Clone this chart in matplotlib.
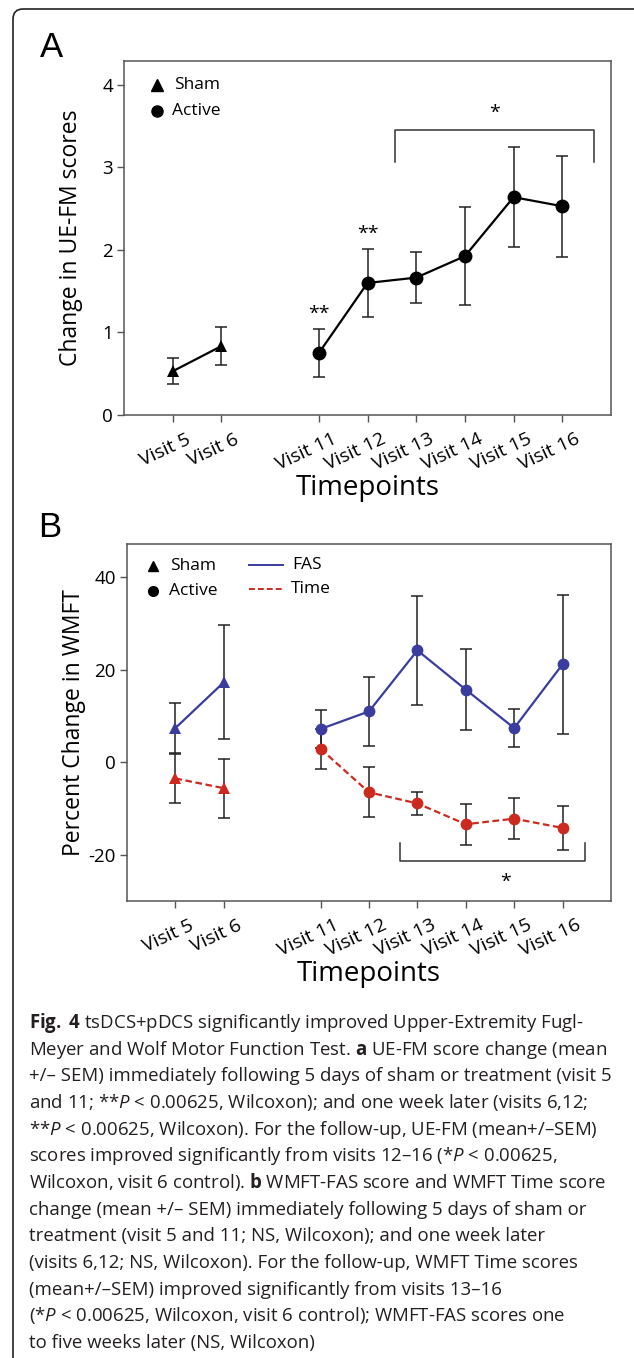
import matplotlib
matplotlib.use("Agg")
import matplotlib.pyplot as plt
from matplotlib.patches import FancyBboxPatch
from matplotlib.transforms import IdentityTransform, offset_copy

plt.rcParams["font.family"] = ["Open Sans", "DejaVu Sans"]
plt.rcParams["mathtext.fontset"] = "custom"
plt.rcParams["mathtext.rm"] = "Open Sans"
plt.rcParams["mathtext.bf"] = "Open Sans:bold"
plt.rcParams["mathtext.it"] = "Open Sans:italic"
plt.rcParams["axes.unicode_minus"] = False

# ---------------------------------------------------------------------------
# data
# ---------------------------------------------------------------------------
visit_labels = ["Visit 5", "Visit 6", "Visit 11", "Visit 12",
                "Visit 13", "Visit 14", "Visit 15", "Visit 16"]
visit_pos = [0, 1, 3, 4, 5, 6, 7, 8]
sham_pos = visit_pos[:2]
active_pos = visit_pos[2:]

# panel A: UE-FM change
uefm_sham = [0.53, 0.835]
uefm_sham_err = [0.16, 0.23]
uefm_active = [0.75, 1.60, 1.665, 1.925, 2.64, 2.53]
uefm_active_err = [0.29, 0.41, 0.31, 0.59, 0.61, 0.61]

# panel B: WMFT percent change
fas_sham = [7.4, 17.3]
fas_sham_err = [5.5, 12.3]
fas_active = [7.2, 11.0, 24.2, 15.7, 7.4, 21.2]
fas_active_err = [4.1, 7.5, 11.8, 8.7, 4.2, 15.0]
time_sham = [-3.5, -5.6]
time_sham_err = [5.3, 6.4]
time_active = [2.9, -6.5, -8.9, -13.4, -12.2, -14.2]
time_active_err = [4.3, 5.4, 2.4, 4.4, 4.4, 4.8]

caption_lines = [
    r"$\mathbf{Fig.}$ $\mathbf{4}$ tsDCS+pDCS significantly improved Upper-Extremity Fugl-",
    r"Meyer and Wolf Motor Function Test. $\mathbf{a}$ UE-FM score change (mean",
    "+/\u2013 SEM) immediately following 5 days of sham or treatment (visit 5",
    r"and 11; **$\mathit{P}$ < 0.00625, Wilcoxon); and one week later (visits 6,12;",
    "**$\\mathit{P}$ < 0.00625, Wilcoxon). For the follow-up, UE-FM (mean+/\u2013SEM)",
    "scores improved significantly from visits 12\u201316 (*$\\mathit{P}$ < 0.00625,",
    r"Wilcoxon, visit 6 control). $\mathbf{b}$ WMFT-FAS score and WMFT Time score",
    "change (mean +/\u2013 SEM) immediately following 5 days of sham or",
    "treatment (visit 5 and 11; NS, Wilcoxon); and one week later",
    "(visits 6,12; NS, Wilcoxon). For the follow-up, WMFT Time scores",
    "(mean+/\u2013SEM) improved significantly from visits 13\u201316",
    r"(*$\mathit{P}$ < 0.00625, Wilcoxon, visit 6 control); WMFT-FAS scores one",
    "to five weeks later (NS, Wilcoxon)",
]

W, H = 634, 1358
fig = plt.figure(figsize=(W / 100, H / 100), dpi=100)

BLUE = "#3a3c9e"
RED = "#cc2a1f"
SPINE = "#555555"


def style_axes(ax):
    for s in ax.spines.values():
        s.set_color(SPINE)
        s.set_linewidth(1.1)
    ax.tick_params(direction="out", length=5, width=1, color=SPINE,
                   labelsize=13.5, pad=3)
    ax.set_xlim(-1, 9)
    ax.set_xticks(visit_pos)
    ax.set_xticklabels(visit_labels, rotation=25, ha="right", va="top",
                       rotation_mode="anchor", fontsize=14)
    for lab in ax.get_xticklabels():
        lab.set_transform(offset_copy(lab.get_transform(), fig=fig,
                                      x=13, y=-4, units="dots"))
    ax.set_xlabel("Timepoints", fontsize=20, labelpad=0)


def err(ax, x, y, e, color, fmt, ls, ms):
    ax.errorbar(x, y, yerr=e, fmt="none", ecolor="#222222", elinewidth=1.1,
                capsize=4, capthick=1.1, zorder=2)
    ax.plot(x, y, color=color, ls=ls, lw=1.6, marker=fmt, ms=ms,
            markeredgewidth=0, zorder=3)


# ---------------------------------------------------------------------------
# panel A
# ---------------------------------------------------------------------------
axA = fig.add_axes([124 / W, 1 - 415 / H, 487 / W, 354 / H])
style_axes(axA)
axA.set_ylim(0, 4.29)
axA.set_yticks([0, 1, 2, 3, 4])
axA.set_ylabel("Change in UE-FM scores", fontsize=16.5, labelpad=14)

err(axA, sham_pos, uefm_sham, uefm_sham_err, "black", "^", "-", 9)
err(axA, active_pos, uefm_active, uefm_active_err, "black", "o", "-", 10)

axA.text(3, 1.12, "**", ha="center", va="bottom", fontsize=14)
axA.text(4, 2.09, "**", ha="center", va="bottom", fontsize=14)
axA.plot([4.56, 4.56, 8.66, 8.66], [3.06, 3.45, 3.45, 3.06],
         color="#333333", lw=1.1)
axA.text(6.6, 3.55, "*", ha="center", va="bottom", fontsize=14)

axA.plot([-0.33], [4.0], marker="^", color="black", ms=8, ls="none")
axA.plot([-0.33], [3.68], marker="o", color="black", ms=8, ls="none")
axA.text(0.02, 4.0, "Sham", va="center", fontsize=12.5)
axA.text(-0.02, 3.68, "Active", va="center", fontsize=12.5)

# ---------------------------------------------------------------------------
# panel B
# ---------------------------------------------------------------------------
axB = fig.add_axes([127 / W, 1 - 901 / H, 484 / W, 357 / H])
style_axes(axB)
axB.set_ylim(-30, 47.2)
axB.set_yticks([-20, 0, 20, 40])
axB.set_ylabel("Percent Change in WMFT", fontsize=16.5, labelpad=2)

err(axB, sham_pos, fas_sham, fas_sham_err, BLUE, "^", "-", 8)
err(axB, active_pos, fas_active, fas_active_err, BLUE, "o", "-", 8.5)
err(axB, sham_pos, time_sham, time_sham_err, RED, "^", (0, (3, 1.6)), 8)
err(axB, active_pos, time_active, time_active_err, RED, "o", (0, (3, 1.6)), 8.5)

axB.plot([4.64, 4.64, 8.46, 8.46], [-17.4, -21.4, -21.4, -17.4],
         color="#333333", lw=1.1)
axB.text(6.83, -24.0, "*", ha="center", va="top", fontsize=14)

axB.plot([-0.46], [42.4], marker="^", color="black", ms=7, ls="none")
axB.plot([-0.46], [37.1], marker="o", color="black", ms=7, ls="none")
axB.text(-0.1, 42.4, "Sham", va="center", fontsize=12.5)
axB.text(-0.13, 37.1, "Active", va="center", fontsize=12.5)
axB.plot([1.52, 2.23], [42.6, 42.6], color=BLUE, lw=1.4)
axB.plot([1.52, 2.23], [37.5, 37.5], color=RED, lw=1.4, ls=(0, (3, 1.6)))
axB.text(2.42, 42.6, "FAS", va="center", fontsize=12.5)
axB.text(2.38, 37.5, "Time", va="center", fontsize=12.5)

# panel letters
fig.text(40 / W, 1 - 57 / H, "A", fontsize=25, family="Liberation Sans",
         va="baseline")
fig.text(38 / W, 1 - 537 / H, "B", fontsize=25, family="Liberation Sans",
         va="baseline")

# caption
for i, line in enumerate(caption_lines):
    fig.text(29 / W, 1 - (1028 + i * 26.67) / H, line, fontsize=13.4,
             color="#231f20", va="baseline", ha="left")

# outer frame (only top and left visible)
frame = FancyBboxPatch((13, -60), 800, H - 9 + 60, boxstyle="round,pad=0,rounding_size=10",
                       transform=IdentityTransform(), fill=False,
                       edgecolor="#222222", lw=1.2)
fig.patches.append(frame)

fig.savefig("out.png", dpi=100)
